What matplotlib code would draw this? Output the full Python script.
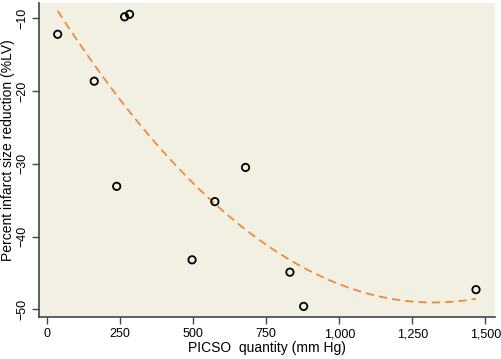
import numpy as np
import matplotlib
matplotlib.use("Agg")
import matplotlib.pyplot as plt
from matplotlib.ticker import FuncFormatter

picso = [36, 265, 282, 161, 679, 238, 574, 496, 831, 878, 1468]
reduction = [-12.2, -9.8, -9.45, -18.65, -30.5, -33.1, -35.2, -43.2, -44.9, -49.6, -47.3]
xticks = [0, 250, 500, 750, 1000, 1250, 1500]
yticks = [-10, -20, -30, -40, -50]

plt.rcParams['font.family'] = ['Liberation Sans', 'DejaVu Sans']

W, H = 502, 359
fig = plt.figure(figsize=(W/100, H/100), dpi=100)
ax = fig.add_axes([39/W, 1-317/H, (495-39)/W, (317-3)/H])
ax.set_facecolor('#f2efe3')

coef = np.polyfit(picso, reduction, 2)
xs = np.linspace(min(picso), max(picso), 200)
ax.plot(xs, np.polyval(coef, xs), color='#ee8434', lw=1.2, dashes=(5, 3))
ax.scatter(picso, reduction, s=28, facecolors='none', edgecolors='black', linewidths=1.3, zorder=3)

ax.set_xlim(-28, 1533)
ax.set_ylim(-51.06, -7.9)
ax.set_xticks(xticks)
ax.set_yticks(yticks)
ax.xaxis.set_major_formatter(FuncFormatter(lambda v, p: f"{int(v):,}"))
ax.yaxis.set_major_formatter(FuncFormatter(lambda v, p: f"\u2212{abs(int(v))}"))
ax.tick_params(labelsize=9, length=5, width=1, color='#444444', direction='out', pad=3)
plt.setp(ax.get_yticklabels(), rotation=90, va='center')
for s in ['top', 'right']:
    ax.spines[s].set_visible(False)
for s in ['left', 'bottom']:
    ax.spines[s].set_color('#444444')
    ax.spines[s].set_linewidth(1.2)
ax.set_xlabel('PICSO  quantity (mm Hg)', fontsize=10)
ax.set_ylabel('Percent infarct size reduction (%LV)', fontsize=10)
ax.xaxis.set_label_coords(0.5, -(348-317)/314, transform=ax.transAxes)
ax.yaxis.set_label_coords(-(39-8.5)/456, (317-150.5)/314, transform=ax.transAxes)
ax.xaxis.label.set_va('center')
ax.yaxis.label.set_va('center')
fig.savefig('out.png', dpi=100)
